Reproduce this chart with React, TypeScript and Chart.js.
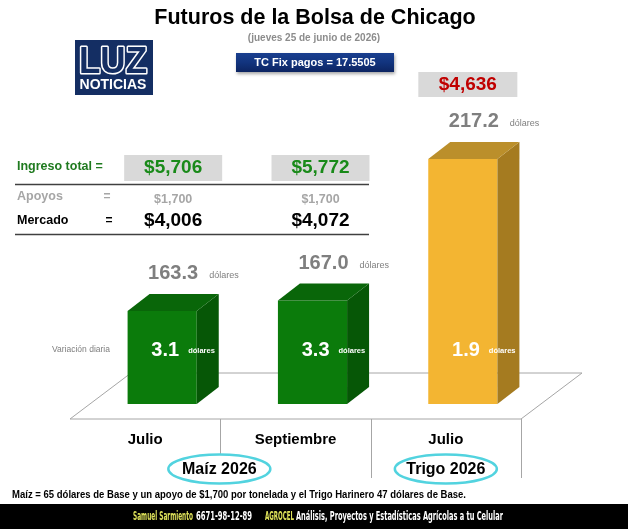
import React, { useEffect, useRef } from "react";
import { Chart, registerables } from "chart.js";
Chart.register(...registerables);

const months = ["Julio", "Septiembre", "Julio"];
const crops = ["Maíz 2026", "Trigo 2026"];
const prices = [163.3, 167.0, 217.2];
const dailyChange = [3.1, 3.3, 1.9];
const totalIncome = ["$5,706", "$5,772"];
const supports = ["$1,700", "$1,700"];
const market = ["$4,006", "$4,072"];
const wheatIncome = "$4,636";
const frontColors = ["#0b7b0b", "#0b7b0b", "#f3b532"];
const sideColors = ["#065706", "#065706", "#a57b20"];
const topColors = ["#096609", "#096609", "#bb8f2b"];

const F = "'Liberation Sans', Arial, sans-serif";
const FC = "'DejaVu Sans Condensed', 'Liberation Sans Narrow', sans-serif";

function txt(
  ctx: CanvasRenderingContext2D,
  s: string,
  x: number,
  y: number,
  font: string,
  color: string,
  align: CanvasTextAlign = "left",
  maxW?: number
) {
  ctx.font = font;
  ctx.fillStyle = color;
  ctx.textAlign = align;
  ctx.textBaseline = "middle";
  if (maxW) ctx.fillText(s, x, y, maxW);
  else ctx.fillText(s, x, y);
}

function line(ctx: CanvasRenderingContext2D, pts: number[][], color: string, w: number) {
  ctx.beginPath();
  ctx.moveTo(pts[0][0], pts[0][1]);
  for (let i = 1; i < pts.length; i++) ctx.lineTo(pts[i][0], pts[i][1]);
  ctx.strokeStyle = color;
  ctx.lineWidth = w;
  ctx.stroke();
}

function poly(ctx: CanvasRenderingContext2D, pts: number[][], color: string) {
  ctx.beginPath();
  ctx.moveTo(pts[0][0], pts[0][1]);
  for (let i = 1; i < pts.length; i++) ctx.lineTo(pts[i][0], pts[i][1]);
  ctx.closePath();
  ctx.fillStyle = color;
  ctx.fill();
}

const DX = 22;
const DY = 17;

const deco = {
  id: "deco",
  beforeDraw(chart: any) {
    const ctx = chart.ctx as CanvasRenderingContext2D;
    ctx.save();
    ctx.fillStyle = "#ffffff";
    ctx.fillRect(0, 0, chart.width, chart.height);
    ctx.restore();
  },
  beforeDatasetsDraw(chart: any) {
    const ctx = chart.ctx as CanvasRenderingContext2D;
    const xs = chart.scales.x;
    const base = chart.chartArea.bottom;
    const catW = xs.getPixelForValue(1) - xs.getPixelForValue(0);
    const b0 = xs.getPixelForValue(0) - catW / 2 - 17;
    const b3 = b0 + 3 * catW;
    const fy = base + 15;
    const by = base - 31;
    const d = 61;
    ctx.save();
    poly(ctx, [[b0, fy], [b3, fy], [b3 + d, by], [b0 + d, by]], "#ffffff");
    line(ctx, [[b0, fy], [b3, fy], [b3 + d, by], [b0 + d, by], [b0, fy]], "#a6a6a6", 1);
    for (let i = 1; i <= 3; i++) {
      const x = Math.round(b0 + i * catW) + 0.5;
      line(ctx, [[x, fy], [x, fy + 59]], "#a6a6a6", 1);
    }
    ctx.restore();
  },
  afterDatasetsDraw(chart: any) {
    const ctx = chart.ctx as CanvasRenderingContext2D;
    const meta = chart.getDatasetMeta(0);
    const base = chart.chartArea.bottom;
    ctx.save();
    meta.data.forEach((bar: any, i: number) => {
      const p = bar.getProps(["x", "y", "width"], true);
      const L = p.x - p.width / 2;
      const R = p.x + p.width / 2;
      poly(ctx, [[R, p.y], [R + DX, p.y - DY], [R + DX, base - DY], [R, base]], sideColors[i]);
      poly(ctx, [[L, p.y], [L + DX, p.y - DY], [R + DX, p.y - DY], [R, p.y]], topColors[i]);
      // price label above
      txt(ctx, prices[i].toFixed(1), p.x + 36, p.y - 37, `bold 20px ${F}`, "#7f7f7f", "right");
      txt(ctx, "dólares", p.x + 47, p.y - 35, `9px ${F}`, "#7f7f7f", "left");
      // daily change inside
      txt(ctx, dailyChange[i].toFixed(1), p.x + 17, base - 54, `bold 20px ${F}`, "#ffffff", "right");
      txt(ctx, "dólares", p.x + 26, base - 53, `bold 7.5px ${F}`, "#ffffff", "left");
    });
    ctx.restore();
  },
  afterDraw(chart: any) {
    const ctx = chart.ctx as CanvasRenderingContext2D;
    const xs = chart.scales.x;
    const base = chart.chartArea.bottom;
    const meta = chart.getDatasetMeta(0);
    const bx = meta.data.map((b: any) => b.getProps(["x"], true).x);
    const catW = xs.getPixelForValue(1) - xs.getPixelForValue(0);
    const b0 = xs.getPixelForValue(0) - catW / 2 - 17;
    ctx.save();

    // Title
    txt(ctx, "Futuros de la Bolsa de Chicago", 315, 18, `bold 21.5px ${F}`, "#000000", "center");
    txt(ctx, "(jueves 25 de junio de 2026)", 314, 38, `bold 10px ${F}`, "#8c8c8c", "center");

    // Logo
    ctx.fillStyle = "#142e63";
    ctx.fillRect(75, 40, 78, 55);
    ctx.font = `bold 36px ${F}`;
    ctx.textAlign = "center";
    ctx.textBaseline = "alphabetic";
    ctx.lineWidth = 3;
    ctx.lineJoin = "round";
    ctx.strokeStyle = "#ffffff";
    ctx.strokeText("LUZ", 113, 73, 68);
    ctx.fillStyle = "#142e63";
    ctx.fillText("LUZ", 113, 73, 68);
    txt(ctx, "NOTICIAS", 113, 85, `bold 14px ${F}`, "#ffffff", "center", 71);

    // TC Fix box
    ctx.shadowColor = "rgba(0,0,0,0.35)";
    ctx.shadowBlur = 3;
    ctx.shadowOffsetX = 1;
    ctx.shadowOffsetY = 2;
    const g = ctx.createLinearGradient(0, 53, 0, 72);
    g.addColorStop(0, "#1a3f8f");
    g.addColorStop(0.5, "#12347e");
    g.addColorStop(1, "#0c2461");
    ctx.fillStyle = g;
    ctx.fillRect(236, 53, 158, 19);
    ctx.shadowColor = "transparent";
    ctx.shadowBlur = 0;
    ctx.shadowOffsetX = 0;
    ctx.shadowOffsetY = 0;
    txt(ctx, "TC Fix pagos = 17.5505", 315, 62.5, `bold 11px ${F}`, "#ffffff", "center");

    // Wheat income box
    const wx = bx[2] + 5;
    ctx.fillStyle = "#d9d9d9";
    ctx.fillRect(wx - 49.5, 72, 99, 25);
    txt(ctx, wheatIncome, wx, 85, `bold 19px ${F}`, "#c00000", "center");

    // Table
    txt(ctx, "Ingreso total =", 17, 167, `bold 12.5px ${F}`, "#1f7a1f", "left");
    for (let i = 0; i < 2; i++) {
      const cx = i === 0 ? bx[0] + 11 : bx[1] + 8;
      ctx.fillStyle = "#d9d9d9";
      ctx.fillRect(cx - 49, 155, 98, 26);
      txt(ctx, totalIncome[i], cx, 168, `bold 19px ${F}`, "#198a19", "center");
      txt(ctx, supports[i], cx, 200, `bold 12.5px ${F}`, "#a6a6a6", "center");
      txt(ctx, market[i], cx, 221, `bold 19px ${F}`, "#000000", "center");
    }
    line(ctx, [[15, 184.5], [369, 184.5]], "#404040", 1.5);
    txt(ctx, "Apoyos", 17, 197, `bold 12.5px ${F}`, "#a6a6a6", "left");
    txt(ctx, "=", 107, 197, `bold 12px ${F}`, "#a6a6a6", "center");
    txt(ctx, "Mercado", 17, 221, `bold 12.5px ${F}`, "#000000", "left");
    txt(ctx, "=", 109, 221, `bold 12px ${F}`, "#000000", "center");
    line(ctx, [[15, 234.5], [369, 234.5]], "#404040", 1.5);

    // Variación diaria
    txt(ctx, "Variación diaria", 52, base - 54, `8.5px ${F}`, "#7f7f7f", "left", 65);

    // x labels
    months.forEach((m, i) => {
      const cx = b0 + (i + 0.5) * catW;
      txt(ctx, m, cx, base + 36, `bold 15px ${F}`, "#000000", "center");
    });

    // crop ellipses
    const ell = [b0 + catW - 1, b0 + 2.5 * catW];
    crops.forEach((c, i) => {
      const cx = ell[i];
      ctx.beginPath();
      ctx.ellipse(cx, base + 65, 51, 14.5, 0, 0, Math.PI * 2);
      ctx.fillStyle = "#ffffff";
      ctx.fill();
      ctx.lineWidth = 2.5;
      ctx.strokeStyle = "#52d3df";
      ctx.stroke();
      txt(ctx, c, cx, base + 66, `bold 16px ${F}`, "#000000", "center");
    });

    // footnote
    txt(
      ctx,
      "Maíz = 65 dólares de Base y un apoyo de $1,700 por tonelada y el Trigo Harinero 47 dólares de Base.",
      12,
      495,
      `bold 10px ${F}`,
      "#000000",
      "left",
      454
    );

    // footer band
    ctx.fillStyle = "#000000";
    ctx.fillRect(0, 504, chart.width, 25);
    const fy = 517;
    const ff = `bold 12.5px ${FC}`;
    txt(ctx, "Samuel Sarmiento", 133, fy, ff, "#dfe35a", "left", 60);
    txt(ctx, "6671-98-12-89", 196, fy, ff, "#ffffff", "left", 56);
    txt(ctx, "AGROCEL", 265, fy, ff, "#dfe35a", "left", 29);
    txt(ctx, "Análisis, Proyectos y Estadísticas Agrícolas a tu Celular", 296, fy, ff, "#ffffff", "left", 207);

    ctx.restore();
  },
};

export default function App() {
  const ref = useRef<HTMLCanvasElement>(null);
  useEffect(() => {
    const canvas = ref.current!;
    const chart = new Chart(canvas, {
      type: "bar",
      data: {
        labels: months,
        datasets: [
          {
            data: prices,
            backgroundColor: frontColors,
            borderWidth: 0,
            barPercentage: 0.46,
            categoryPercentage: 1,
          },
        ],
      },
      options: {
        responsive: false,
        maintainAspectRatio: false,
        animation: false,
        devicePixelRatio: 1,
        layout: { padding: { left: 87, right: 90, top: 100, bottom: 125 } },
        scales: {
          x: { display: false },
          y: { display: false, min: 130.3, max: 238.1 },
        },
        plugins: {
          legend: { display: false },
          tooltip: { enabled: false },
          title: { display: false },
        },
      },
      plugins: [deco as any],
    });
    return () => chart.destroy();
  }, []);
  return (
    <div style={{ position: "fixed", left: 0, top: 0, width: 628, height: 529, background: "#ffffff" }}>
      <canvas ref={ref} width={628} height={529} style={{ width: 628, height: 529, display: "block" }} />
    </div>
  );
}
